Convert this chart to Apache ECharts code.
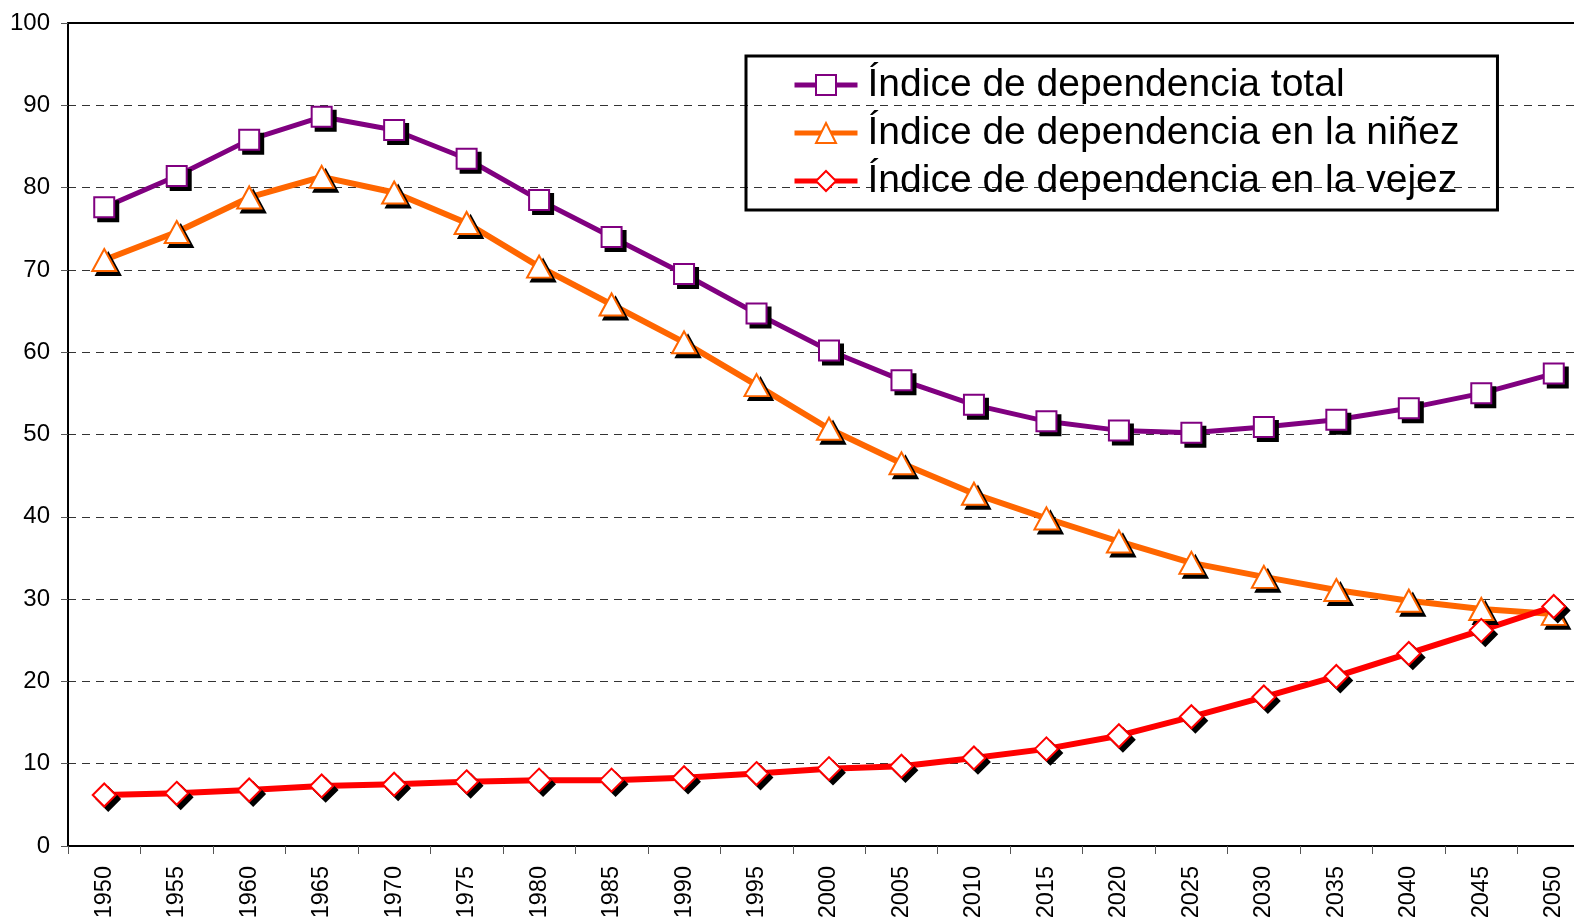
<!DOCTYPE html>
<html>
<head>
<meta charset="utf-8">
<script src="https://cdn.jsdelivr.net/npm/echarts@6/dist/echarts.min.js"></script>
<style>
    html, body { margin: 0; padding: 0; background: #fff; }
    #chart_dep { width: 1574px; height: 918px; }
</style>
</head>
<body>
<div id="chart_dep"></div>
<script>
var years = ['1950', '1955', '1960', '1965', '1970', '1975', '1980', '1985', '1990', '1995', '2000',
    '2005', '2010', '2015', '2020', '2025', '2030', '2035', '2040', '2045', '2050'];
var yTicks = [0, 10, 20, 30, 40, 50, 60, 70, 80, 90, 100];

var depTotal = [77.6, 81.4, 85.8, 88.6, 87.0, 83.5, 78.5, 74.0, 69.5, 64.7, 60.2,
    56.6, 53.6, 51.6, 50.5, 50.2, 50.9, 51.8, 53.2, 55.0, 57.4];
var depNinez = [71.2, 74.6, 78.8, 81.3, 79.4, 75.7, 70.4, 65.8, 61.2, 56.0, 50.7,
    46.5, 42.8, 39.8, 37.0, 34.4, 32.7, 31.1, 29.8, 28.8, 28.2];
var depVejez = [6.2, 6.4, 6.8, 7.3, 7.5, 7.8, 8.0, 8.0, 8.3, 8.8, 9.4,
    9.7, 10.7, 11.8, 13.4, 15.7, 18.1, 20.6, 23.4, 26.2, 29.1];

var chart_dep = echarts.init(document.getElementById('chart_dep'));

var font = "'Liberation Sans', Arial, sans-serif";

// sombra negra de los marcadores (serie aparte, desplazada)
function sombra(name, data, symbol, size) {
    return {
        name: name + ' (sombra)',
        type: 'line',
        data: data,
        symbol: symbol,
        symbolSize: size,
        symbolOffset: [4, 4],
        showAllSymbol: true,
        silent: true,
        lineStyle: {opacity: 0},
        itemStyle: {color: '#000', borderColor: '#000', borderWidth: 2}
    };
}

function serie(name, data, color, width, symbol, size) {
    return {
        name: name,
        type: 'line',
        data: data,
        symbol: symbol,
        symbolSize: size,
        showAllSymbol: true,
        lineStyle: {color: color, width: width},
        itemStyle: {color: '#fff', borderColor: color, borderWidth: 2}
    };
}

var option = {
    animation: false,
    backgroundColor: '#fff',
    textStyle: {fontFamily: font},
    grid: {
        left: 68,
        top: 23,
        width: 1522,
        height: 823,
        outerBoundsMode: 'none'
    },
    legend: {
        orient: 'vertical',
        left: 746,
        top: 56,
        padding: [9, 38, 9, 46],
        itemGap: 8,
        itemWidth: 63,
        itemHeight: 25,
        borderColor: '#000',
        borderWidth: 3,
        lineStyle: {width: 5},
        textStyle: {fontFamily: font, fontSize: 39, lineHeight: 40, color: '#000', padding: [0, 0, 0, 5]},
        data: ['Índice de dependencia total', 'Índice de dependencia en la niñez', 'Índice de dependencia en la vejez']
    },
    xAxis: [
        {
            type: 'category',
            data: years,
            boundaryGap: true,
            axisLine: {lineStyle: {color: '#000', width: 2}},
            axisTick: {show: true, length: 8, lineStyle: {color: '#555', width: 1}},
            axisLabel: {rotate: 90, fontSize: 23.5, color: '#000', margin: 20, interval: 0}
        },
        {
            type: 'category',
            position: 'top',
            data: years,
            axisLine: {lineStyle: {color: '#000', width: 2}},
            axisTick: {show: false},
            axisLabel: {show: false}
        }
    ],
    yAxis: {
        type: 'value',
        min: yTicks[0],
        max: yTicks[yTicks.length - 1],
        interval: 10,
        axisLine: {show: true, lineStyle: {color: '#000', width: 2}},
        axisTick: {show: true, length: 7, lineStyle: {color: '#555', width: 1}},
        axisLabel: {fontSize: 24, color: '#000', margin: 18},
        splitLine: {show: true, lineStyle: {color: '#333', width: 1, type: [8, 6]}}
    },
    series: [
        sombra('Índice de dependencia total', depTotal, 'rect', 20),
        serie('Índice de dependencia total', depTotal, '#800080', 5, 'rect', 20),
        sombra('Índice de dependencia en la niñez', depNinez, 'triangle', [24, 22]),
        serie('Índice de dependencia en la niñez', depNinez, '#FF6600', 6, 'triangle', [24, 22]),
        sombra('Índice de dependencia en la vejez', depVejez, 'diamond', 23),
        serie('Índice de dependencia en la vejez', depVejez, '#FF0000', 6, 'diamond', 23)
    ]
};
chart_dep.setOption(option);

window.onresize = chart_dep.resize;
</script>
</body>
</html>
